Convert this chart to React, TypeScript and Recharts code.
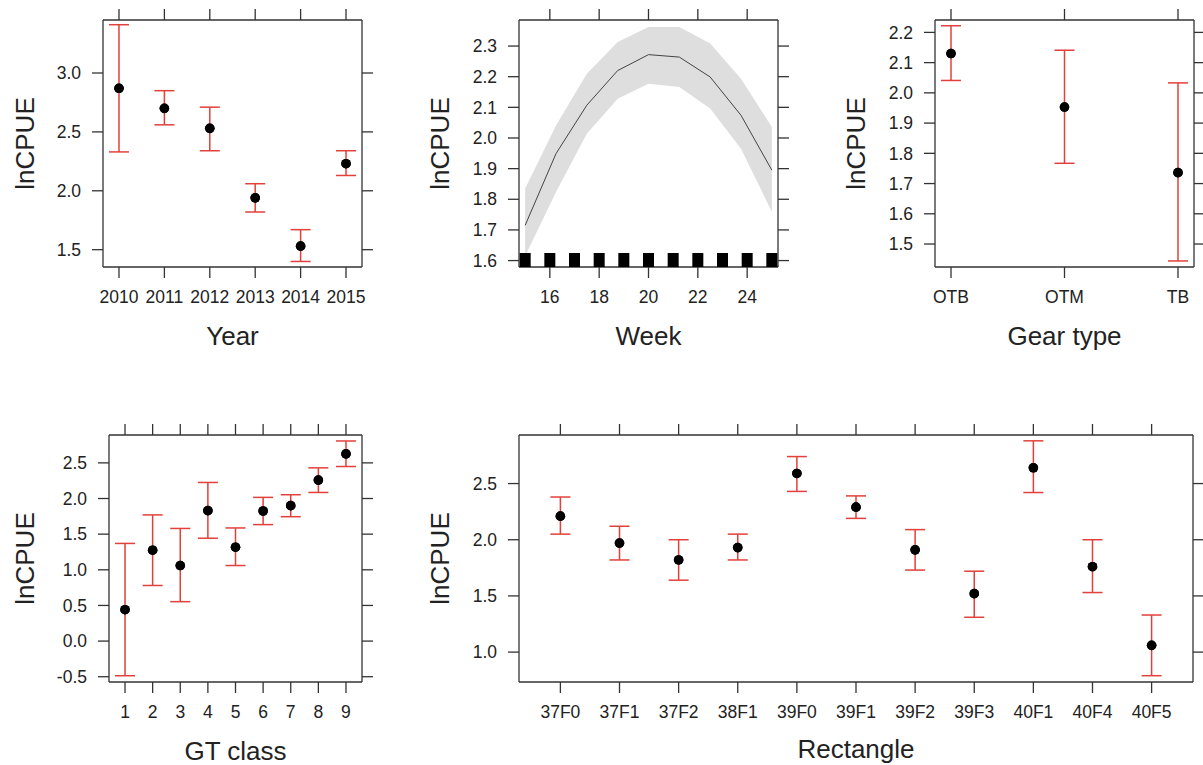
import React from 'react';
import {
  ComposedChart, Scatter, ErrorBar, Area, Line, XAxis, YAxis,
} from 'recharts';

// ---- data ----
const years = ['2010', '2011', '2012', '2013', '2014', '2015'];
const yearEst = [2.87, 2.70, 2.53, 1.94, 1.53, 2.23];
const yearLo = [2.33, 2.56, 2.34, 1.82, 1.40, 2.13];
const yearHi = [3.41, 2.85, 2.71, 2.06, 1.67, 2.34];

const weeks = [15, 16.25, 17.5, 18.75, 20, 21.25, 22.5, 23.75, 25];
const weekFit = [1.715, 1.949, 2.107, 2.220, 2.272, 2.264, 2.199, 2.074, 1.895];
const weekLo = [1.615, 1.824, 2.014, 2.128, 2.177, 2.166, 2.096, 1.965, 1.759];
const weekHi = [1.835, 2.041, 2.210, 2.313, 2.362, 2.362, 2.308, 2.193, 2.036];
const rugWeeks = [15, 16, 17, 18, 19, 20, 21, 22, 23, 24, 25];

const gears = ['OTB', 'OTM', 'TB'];
const gearEst = [2.13, 1.953, 1.736];
const gearLo = [2.041, 1.767, 1.444];
const gearHi = [2.222, 2.141, 2.033];

const gtClasses = ['1', '2', '3', '4', '5', '6', '7', '8', '9'];
const gtEst = [0.44, 1.275, 1.06, 1.83, 1.317, 1.825, 1.90, 2.258, 2.626];
const gtLo = [-0.486, 0.78, 0.553, 1.443, 1.06, 1.634, 1.745, 2.085, 2.449];
const gtHi = [1.37, 1.77, 1.58, 2.225, 1.587, 2.016, 2.053, 2.43, 2.807];

const rects = ['37F0', '37F1', '37F2', '38F1', '39F0', '39F1', '39F2', '39F3', '40F1', '40F4', '40F5'];
const rectEst = [2.21, 1.97, 1.82, 1.93, 2.59, 2.29, 1.91, 1.52, 2.64, 1.76, 1.06];
const rectLo = [2.05, 1.82, 1.64, 1.82, 2.43, 2.19, 1.73, 1.31, 2.42, 1.53, 0.79];
const rectHi = [2.38, 2.12, 2.00, 2.05, 2.74, 2.39, 2.09, 1.72, 2.88, 2.00, 1.33];

// ---- styling ----
const RED = '#e2403a';
const AXIS = '#333';
const TXT = '#222';
const TICK_FS = 17.5;
const TITLE_FS = 26;
const PAD_L = 100, PAD_R = 20, PAD_T = 20, PAD_B = 60;

type Box = { l: number; t: number; r: number; b: number };

const lineStyle = { stroke: AXIS, strokeWidth: 1.3 };
const fmt1 = (v: number) => v.toFixed(1);

const Dot = (p: any) => <circle cx={p.cx} cy={p.cy} r={4.8} fill="#000" />;
// outer ticks on top/right sides carry no labels
const NoLabel = () => <g />;

function Frame({ box, children, data }: { box: Box; children: React.ReactNode; data?: any[] }) {
  const w = box.r - box.l;
  const h = box.b - box.t;
  return (
    <div style={{ position: 'absolute', left: box.l - PAD_L, top: box.t - PAD_T }}>
      <ComposedChart
        width={w + PAD_L + PAD_R}
        height={h + PAD_T + PAD_B}
        margin={{ top: 0, right: 0, bottom: 0, left: 0 }}
        data={data}
      >
        {children}
      </ComposedChart>
    </div>
  );
}

function axes(
  xKey: string, xDomain: number[], xTicks: number[], xFmt: (v: number) => string,
  yDomain: number[], yTicks: number[],
) {
  return [
    <XAxis key="xb" xAxisId="b" dataKey={xKey} type="number" domain={xDomain} ticks={xTicks}
      allowDataOverflow interval={0} tickFormatter={xFmt} height={PAD_B} tickSize={11} tickMargin={13}
      fontSize={TICK_FS} axisLine={lineStyle} tickLine={lineStyle} tick={{ fill: TXT, fontSize: TICK_FS }} />,
    <XAxis key="xt" xAxisId="t" orientation="top" dataKey={xKey} type="number" domain={xDomain} ticks={xTicks}
      allowDataOverflow interval={0} height={PAD_T} tickSize={11}
      axisLine={lineStyle} tickLine={lineStyle} tick={NoLabel} />,
    <YAxis key="yl" yAxisId="l" dataKey="v" type="number" domain={yDomain} ticks={yTicks}
      allowDataOverflow interval={0} tickFormatter={fmt1} width={PAD_L} tickSize={11} tickMargin={11}
      fontSize={TICK_FS} axisLine={lineStyle} tickLine={lineStyle} tick={{ fill: TXT, fontSize: TICK_FS }} />,
    <YAxis key="yr" yAxisId="r" orientation="right" dataKey="v" type="number" domain={yDomain} ticks={yTicks}
      allowDataOverflow interval={0} width={PAD_R} tickSize={11}
      axisLine={lineStyle} tickLine={lineStyle} tick={NoLabel} />,
  ];
}

function ErrPanel({ box, labels, est, lo, hi, xPad, yDomain, yTicks, first = 0 }: {
  box: Box; labels: string[]; est: number[]; lo: number[]; hi: number[];
  xPad: number; yDomain: number[]; yTicks: number[]; first?: number;
}) {
  const rows = labels.map((lab, k) => ({
    i: first + k,
    v: est[k],
    err: [est[k] - lo[k], hi[k] - est[k]],
  }));
  const ticks = rows.map((r) => r.i);
  const xDomain = [first - xPad, first + labels.length - 1 + xPad];
  const xFmt = (v: number) => labels[v - first] ?? '';
  return (
    <Frame box={box}>
      {axes('i', xDomain, ticks, xFmt, yDomain, yTicks)}
      <Scatter data={rows} xAxisId="b" yAxisId="l" dataKey="v" shape={Dot} isAnimationActive={false}>
        <ErrorBar dataKey="err" direction="y" width={10} stroke={RED} strokeWidth={1.5} isAnimationActive={false} />
      </Scatter>
      <Scatter data={rows} xAxisId="b" yAxisId="l" dataKey="v" shape={Dot} isAnimationActive={false} />
    </Frame>
  );
}

function WeekPanel({ box }: { box: Box }) {
  const yDomain = [1.579, 2.385];
  const band = weeks.map((w, k) => ({ w, fit: weekFit[k], lo: weekLo[k], hi: weekHi[k] }));
  const rug = rugWeeks.map((w) => ({ w, v: yDomain[0] }));
  const Rug = (p: any) => <rect x={p.cx - 5.5} y={p.cy - 14} width={11} height={14} fill="#000" />;
  return (
    <Frame box={box} data={band}>
      {axes('w', [14.75, 25.25], [16, 18, 20, 22, 24], (v) => String(v), yDomain,
        [1.6, 1.7, 1.8, 1.9, 2.0, 2.1, 2.2, 2.3])}
      <Area xAxisId="b" yAxisId="l" dataKey={(d: any) => [d.lo, d.hi]} type="linear"
        stroke="none" fill="#dedede" fillOpacity={1} isAnimationActive={false} />
      <Line xAxisId="b" yAxisId="l" dataKey="fit" type="linear" stroke="#444" strokeWidth={1}
        dot={false} isAnimationActive={false} />
      <Scatter data={rug} xAxisId="b" yAxisId="l" dataKey="v" shape={Rug} isAnimationActive={false} />
    </Frame>
  );
}

const titles = [
  { t: 'lnCPUE', x: 25, y: 143.5, rot: true },
  { t: 'lnCPUE', x: 440, y: 143.5, rot: true },
  { t: 'lnCPUE', x: 856, y: 143.5, rot: true },
  { t: 'lnCPUE', x: 25, y: 558.5, rot: true },
  { t: 'lnCPUE', x: 440, y: 558.5, rot: true },
  { t: 'Year', x: 232.5, y: 336, rot: false },
  { t: 'Week', x: 648.5, y: 336, rot: false },
  { t: 'Gear type', x: 1064.5, y: 336, rot: false },
  { t: 'GT class', x: 235.5, y: 751, rot: false },
  { t: 'Rectangle', x: 856, y: 749, rot: false },
];

export default function App() {
  return (
    <div style={{
      position: 'absolute', left: 0, top: 0, width: 1203, height: 765, background: '#fff',
      fontFamily: '"Liberation Sans", Arial, Helvetica, sans-serif', overflow: 'hidden',
    }}>
      <ErrPanel box={{ l: 103, t: 20, r: 362, b: 267 }} labels={years} est={yearEst} lo={yearLo} hi={yearHi}
        xPad={0.352} yDomain={[1.353, 3.45]} yTicks={[1.5, 2.0, 2.5, 3.0]} />
      <WeekPanel box={{ l: 519, t: 20, r: 778, b: 267 }} />
      <ErrPanel box={{ l: 935, t: 20, r: 1194, b: 267 }} labels={gears} est={gearEst} lo={gearLo} hi={gearHi}
        xPad={0.141} yDomain={[1.424, 2.241]} yTicks={[1.5, 1.6, 1.7, 1.8, 1.9, 2.0, 2.1, 2.2]} />
      <ErrPanel box={{ l: 109, t: 435, r: 362, b: 682 }} labels={gtClasses} est={gtEst} lo={gtLo} hi={gtHi}
        first={1} xPad={0.58} yDomain={[-0.574, 2.891]} yTicks={[-0.5, 0.0, 0.5, 1.0, 1.5, 2.0, 2.5]} />
      <ErrPanel box={{ l: 519, t: 435, r: 1193, b: 682 }} labels={rects} est={rectEst} lo={rectLo} hi={rectHi}
        xPad={0.7} yDomain={[0.734, 2.932]} yTicks={[1.0, 1.5, 2.0, 2.5]} />
      <svg width={1203} height={765} style={{ position: 'absolute', left: 0, top: 0, pointerEvents: 'none' }}>
        {titles.map((d, k) => (
          <text key={k} x={d.x} y={d.y} textAnchor="middle" dominantBaseline="central"
            fontSize={TITLE_FS} fill={TXT}
            transform={d.rot ? `rotate(-90 ${d.x} ${d.y})` : undefined}>
            {d.t}
          </text>
        ))}
      </svg>
    </div>
  );
}
